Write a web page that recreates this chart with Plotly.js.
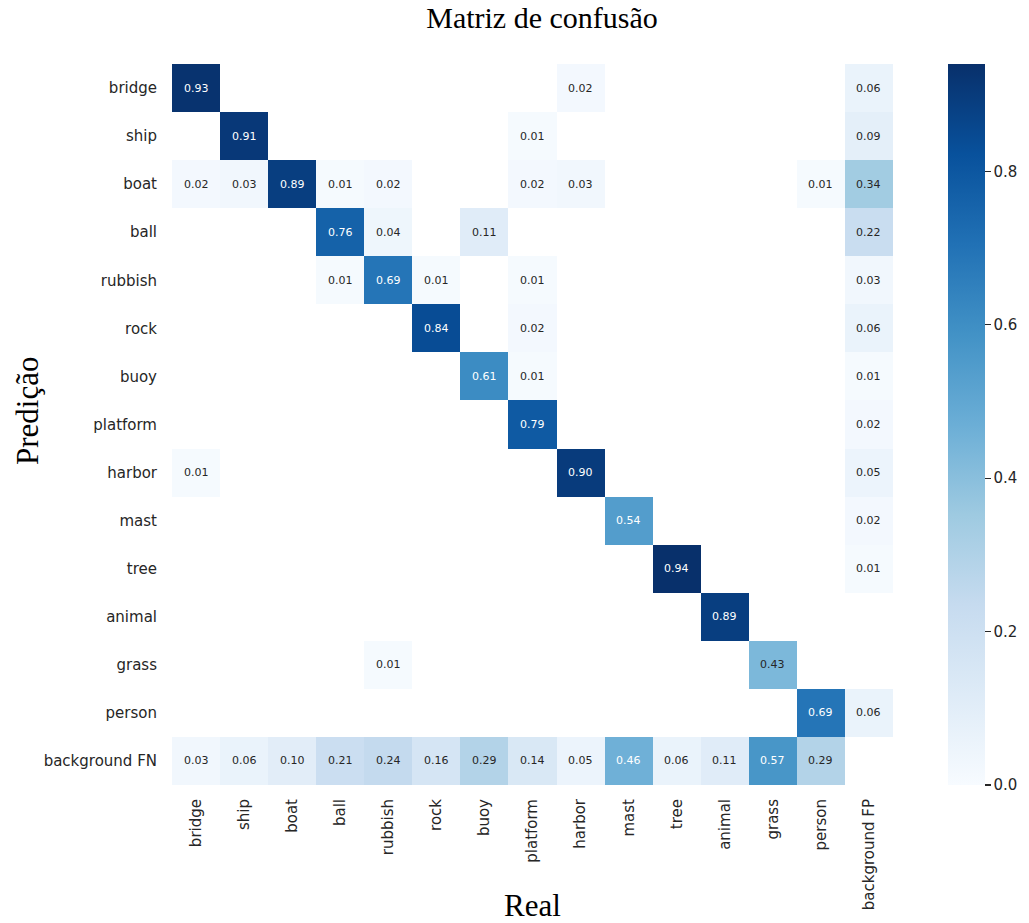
<!DOCTYPE html>
<html>
<head>
<meta charset="utf-8">
<script src="https://cdn.plot.ly/plotly-3.0.1.min.js"></script>
<style>
  html, body { margin: 0; padding: 0; background: #ffffff; }
  #chart { width: 1029px; height: 923px; }
</style>
</head>
<body>
<div id="chart"></div>
<script>
// Class labels (real = columns, predicted = rows)
const realLabels = ["bridge", "ship", "boat", "ball", "rubbish", "rock", "buoy", "platform",
  "harbor", "mast", "tree", "animal", "grass", "person", "background FP"];
const predLabels = ["bridge", "ship", "boat", "ball", "rubbish", "rock", "buoy", "platform",
  "harbor", "mast", "tree", "animal", "grass", "person", "background FN"];

// Normalised confusion values, one array per predicted class (null = empty cell)
const predBridge   = [0.93, null, null, null, null, null, null, null, 0.02, null, null, null, null, null, 0.06];
const predShip     = [null, 0.91, null, null, null, null, null, 0.01, null, null, null, null, null, null, 0.09];
const predBoat     = [0.02, 0.03, 0.89, 0.01, 0.02, null, null, 0.02, 0.03, null, null, null, null, 0.01, 0.34];
const predBall     = [null, null, null, 0.76, 0.04, null, 0.11, null, null, null, null, null, null, null, 0.22];
const predRubbish  = [null, null, null, 0.01, 0.69, 0.01, null, 0.01, null, null, null, null, null, null, 0.03];
const predRock     = [null, null, null, null, null, 0.84, null, 0.02, null, null, null, null, null, null, 0.06];
const predBuoy     = [null, null, null, null, null, null, 0.61, 0.01, null, null, null, null, null, null, 0.01];
const predPlatform = [null, null, null, null, null, null, null, 0.79, null, null, null, null, null, null, 0.02];
const predHarbor   = [0.01, null, null, null, null, null, null, null, 0.90, null, null, null, null, null, 0.05];
const predMast     = [null, null, null, null, null, null, null, null, null, 0.54, null, null, null, null, 0.02];
const predTree     = [null, null, null, null, null, null, null, null, null, null, 0.94, null, null, null, 0.01];
const predAnimal   = [null, null, null, null, null, null, null, null, null, null, null, 0.89, null, null, null];
const predGrass    = [null, null, null, null, 0.01, null, null, null, null, null, null, null, 0.43, null, null];
const predPerson   = [null, null, null, null, null, null, null, null, null, null, null, null, null, 0.69, 0.06];
const predBgFN     = [0.03, 0.06, 0.10, 0.21, 0.24, 0.16, 0.29, 0.14, 0.05, 0.46, 0.06, 0.11, 0.57, 0.29, null];

// Colour bar ticks
const cbarTicks = [0.0, 0.2, 0.4, 0.6, 0.8];

const zRows = [predBridge, predShip, predBoat, predBall, predRubbish, predRock, predBuoy,
  predPlatform, predHarbor, predMast, predTree, predAnimal, predGrass, predPerson, predBgFN];

// matplotlib "Blues"
const blues = [
  [0.0, "#f7fbff"], [0.125, "#deebf7"], [0.25, "#c6dbef"], [0.375, "#9ecae1"],
  [0.5, "#6baed6"], [0.625, "#4292c6"], [0.75, "#2171b5"], [0.875, "#08519c"], [1.0, "#08306b"]
];

const allVals = zRows.flat().filter(v => v !== null);
const zMax = Math.max(...allVals);

const heat = {
  type: "heatmap",
  x: realLabels,
  y: predLabels,
  z: zRows,
  zmin: 0,
  zmax: zMax,
  colorscale: blues,
  hoverinfo: "skip",
  colorbar: {
    x: 948 / 1029, xanchor: "left", xref: "container", xpad: 0,
    y: 0, yanchor: "bottom", yref: "paper", len: 1, lenmode: "fraction", ypad: 0,
    thickness: 37, outlinewidth: 0,
    tickmode: "array", tickvals: cbarTicks, ticktext: cbarTicks.map(v => v.toFixed(1)),
    ticks: "outside", ticklen: 6, tickwidth: 1.3, tickcolor: "#262626",
    tickfont: { family: "DejaVu Sans", size: 15, color: "#262626" }
  }
};

// Cell value labels, white on dark cells
const annotations = [];
zRows.forEach((row, i) => {
  row.forEach((v, j) => {
    if (v === null) return;
    annotations.push({
      x: realLabels[j], y: predLabels[i], xref: "x", yref: "y",
      text: v.toFixed(2), showarrow: false,
      font: { family: "DejaVu Sans", size: 11, color: v >= 0.45 ? "#ffffff" : "#262626" }
    });
  });
});

// Vertical axis title
annotations.push({
  text: "Predição", showarrow: false, textangle: -90,
  xref: "paper", yref: "paper", x: (27 - 172) / 721, y: (785 - 411) / 721,
  xanchor: "center", yanchor: "middle",
  font: { family: "Liberation Serif", size: 31, color: "#000000" }
});

const layout = {
  width: 1029, height: 923,
  margin: { l: 172, r: 136, t: 64, b: 138, autoexpand: false },
  paper_bgcolor: "#ffffff", plot_bgcolor: "#ffffff",
  title: {
    text: "Matriz de confusão",
    x: 542 / 1029, xref: "container", xanchor: "center",
    y: 0.992, yref: "container", yanchor: "top",
    font: { family: "Liberation Serif", size: 30, color: "#000000" }
  },
  xaxis: {
    type: "category", showgrid: false, zeroline: false, showline: false,
    ticks: "", tickangle: -90, ticklabelstandoff: 10,
    tickfont: { family: "DejaVu Sans", size: 15, color: "#262626" },
    title: { text: "Real", standoff: 12, font: { family: "Liberation Serif", size: 31, color: "#000000" } }
  },
  yaxis: {
    type: "category", autorange: "reversed", showgrid: false, zeroline: false, showline: false,
    ticks: "", ticklabelstandoff: 14,
    tickfont: { family: "DejaVu Sans", size: 15, color: "#262626" }
  },
  annotations: annotations,
  showlegend: false
};

Plotly.newPlot("chart", [heat], layout, { displayModeBar: false, staticPlot: true });
</script>
</body>
</html>
